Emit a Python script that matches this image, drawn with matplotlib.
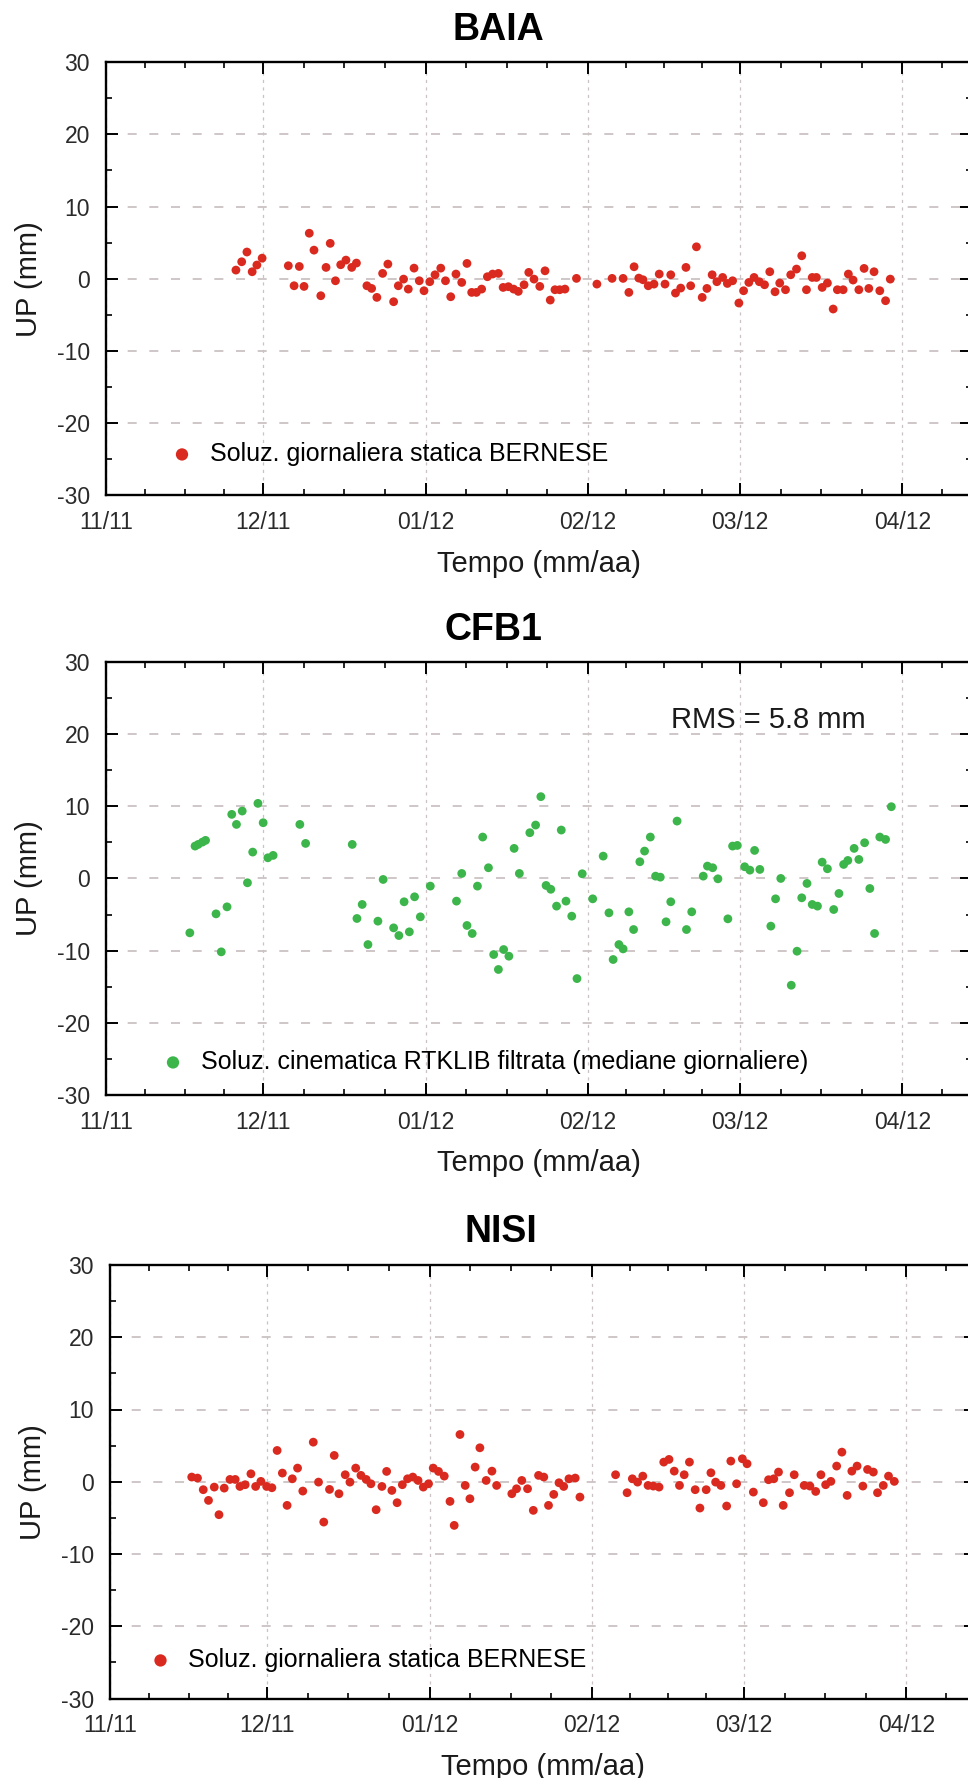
import matplotlib
matplotlib.use("Agg")
import matplotlib.pyplot as plt
from matplotlib.ticker import FixedLocator, MultipleLocator

plt.rcParams['font.family'] = ['Liberation Sans', 'DejaVu Sans']

# ---------------- data (days since 1 Nov 2011, UP in mm) ----------------
month_days = [0, 30, 61, 92, 121, 152]
month_labels = ['11/11', '12/11', '01/12', '02/12', '03/12', '04/12']
month_next = 182  # 1 May 2012 (end of last month interval)

y_ticks = [-30, -20, -10, 0, 10, 20, 30]

baia_day = [24.8, 25.9, 26.9, 27.9, 28.8, 29.8,
            34.8, 35.9, 36.9, 37.8, 38.8, 39.7, 41.0, 42.0, 42.8, 43.8, 44.8, 45.8, 46.9, 47.8,
            49.8, 50.7, 51.7, 52.8, 53.8, 54.9, 55.8, 56.8, 57.7, 58.8,
            59.8, 60.7, 61.8, 62.8, 63.9, 64.8, 65.8, 66.8, 67.9, 68.9,
            69.8, 70.7, 71.7, 72.8, 73.8, 74.9, 75.8, 76.8, 77.8, 78.7,
            79.8, 80.7, 81.7, 82.8, 83.8, 84.8, 85.7, 86.6, 87.6, 89.8,
            93.7, 96.6, 98.7, 99.8, 100.8, 101.7, 102.5, 103.5, 104.6, 105.6,
            106.7, 107.8, 108.7, 109.7, 110.7, 111.6, 112.7, 113.8, 114.7, 115.7,
            116.6, 117.7, 118.6, 119.6, 120.8, 121.7, 122.7, 123.7, 124.7, 125.7,
            126.7, 127.7, 128.6, 129.7, 130.7, 131.8, 132.8, 133.7, 134.8, 135.6,
            136.7, 137.7, 138.8, 139.6, 140.7, 141.7, 142.6, 143.7, 144.7, 145.6,
            146.6, 147.7, 148.8, 149.7]
baia_up = [1.2, 2.35, 3.7, 0.97, 1.9, 2.85,
           1.8, -0.97, 1.7, -1.06, 6.3, 3.96, -2.35, 1.57, 4.9, -0.28, 1.94, 2.58, 1.57, 2.17,
           -0.97, -1.34, -2.58, 0.74, 2.03, -3.18, -0.97, -0.05, -1.43, 1.47,
           -0.28, -1.66, -0.41, 0.55, 1.47, -0.28, -2.49, 0.65, -0.51, 2.12,
           -1.89, -1.89, -1.43, 0.28, 0.65, 0.74, -1.2, -1.1, -1.43, -1.75,
           -0.83, 0.88, -0.05, -1.06, 1.1, -2.95, -1.52, -1.52, -1.43, 0.05,
           -0.74, 0.05, 0.05, -1.89, 1.66, 0.09, -0.14, -0.97, -0.74, 0.65,
           -0.74, 0.55, -1.98, -1.29, 1.57, -0.97, 4.42, -2.58, -1.34, 0.55,
           -0.41, 0.18, -0.65, -0.28, -3.36, -1.66, -0.51, 0.18, -0.41, -0.83,
           0.97, -1.8, -0.6, -1.52, 0.55, 1.34, 3.18, -1.52, 0.18, 0.18,
           -1.2, -0.6, -4.19, -1.52, -1.52, 0.65, -0.18, -1.52, 1.43, -1.34,
           0.97, -1.66, -3.04, -0.05]

cfb1_day = [16.0, 17.0, 17.6, 18.4, 19.0, 21.0, 22.0, 23.1, 24.0, 24.9,
            26.0, 27.0, 28.0, 29.0, 30.0, 30.9, 31.9, 37.0, 38.1,
            47.0, 47.9, 48.9, 50.0, 51.9, 52.9, 54.9, 55.9, 56.9, 57.9,
            58.9, 60.0, 61.9, 66.9, 67.9, 68.9, 69.9, 70.9, 71.9, 73.0,
            74.0, 74.9, 75.9, 76.9, 77.9, 78.9, 80.9, 82.0, 83.0, 84.0,
            84.9, 86.0, 86.9, 87.8, 88.9, 89.9, 90.9, 92.9, 94.9, 96.0,
            96.8, 97.9, 98.7, 99.8, 100.7, 101.9, 102.8, 103.9, 104.9, 105.8,
            106.9, 107.8, 109.0, 110.8, 111.8, 114.0, 114.8, 115.8, 116.8, 118.7,
            119.6, 120.5, 121.9, 122.9, 123.8, 124.8, 126.9, 127.8, 128.8, 130.8,
            131.9, 132.8, 133.8, 134.8, 135.8, 136.7, 137.7, 138.9, 139.9, 140.8,
            141.6, 142.8, 143.7, 144.8, 145.8, 146.7, 147.7, 148.8, 149.9]
cfb1_up = [-7.53, 4.48, 4.71, 5.03, 5.27, -4.9, -10.16, -3.93, 8.87, 7.48,
           9.33, -0.6, 3.65, 10.39, 7.71, 2.86, 3.19, 7.48, 4.85,
           4.71, -5.54, -3.6, -9.15, -5.91, -0.14, -6.84, -7.9, -3.23, -7.39,
           -2.54, -5.31, -1.06, -3.14, 0.69, -6.51, -7.62, -1.06, 5.73, 1.48,
           -10.53, -12.6, -9.84, -10.76, 4.16, 0.69, 6.33, 7.39, 11.32, -0.97,
           -1.5, -3.83, 6.7, -3.14, -5.22, -13.86, 0.65, -2.82, 3.09, -4.76,
           -11.22, -9.15, -9.75, -4.62, -7.07, 2.31, 3.79, 5.73, 0.32, 0.18,
           -6.0, -3.23, 7.94, -7.07, -4.62, 0.32, 1.71, 1.48, -0.05, -5.59,
           4.48, 4.57, 1.62, 1.15, 3.88, 1.25, -6.6, -2.82, 0.0, -14.78,
           -10.07, -2.68, -0.69, -3.6, -3.83, 2.26, 1.34, -4.3, -2.08, 1.94,
           2.49, 4.16, 2.63, 4.94, -1.39, -7.62, 5.73, 5.4, 9.93]

nisi_day = [15.6, 16.7, 17.8, 18.8, 19.9, 20.8, 21.8, 22.9, 23.9, 24.8,
            25.8, 26.9, 27.8, 28.8, 29.9, 30.9, 31.9, 32.9, 33.8, 34.8,
            35.8, 36.8, 38.8, 39.8, 40.8, 41.9, 42.8, 43.7, 44.9, 45.8,
            46.9, 47.9, 48.9, 49.8, 50.8, 51.9, 52.8, 53.8, 54.8, 55.8,
            56.8, 57.8, 58.8, 59.8, 60.8, 61.7, 62.7, 63.8, 64.9, 65.7,
            66.8, 67.8, 68.7, 69.7, 70.6, 71.8, 72.9, 73.8, 76.7, 77.6,
            78.6, 79.7, 80.8, 81.8, 82.8, 83.7, 84.7, 85.7, 86.6, 87.6,
            88.8, 89.7, 96.5, 98.7, 99.7, 100.7, 101.7, 102.7, 103.7, 104.8,
            105.7, 106.7, 107.7, 108.7, 109.6, 110.6, 111.7, 112.6, 113.8, 114.7,
            115.6, 116.6, 117.7, 118.5, 119.6, 120.7, 121.6, 122.8, 124.7, 125.7,
            126.7, 127.6, 128.5, 129.7, 130.6, 132.5, 133.6, 134.7, 135.7, 136.6,
            137.6, 138.7, 139.7, 140.7, 141.6, 142.6, 143.7, 144.6, 145.7, 146.5,
            147.6, 148.6, 149.7]
nisi_up = [0.65, 0.51, -1.1, -2.58, -0.74, -4.56, -0.88, 0.32, 0.32, -0.65,
           -0.41, 1.1, -0.65, 0.05, -0.65, -0.83, 4.33, 1.2, -3.27, 0.41,
           1.89, -1.29, 5.48, -0.05, -5.58, -1.06, 3.64, -1.66, 0.97, -0.05,
           1.89, 0.88, 0.32, -0.28, -3.87, -0.65, 1.43, -1.2, -2.9, -0.41,
           0.41, 0.65, 0.18, -0.74, -0.28, 1.89, 1.43, 0.78, -2.72, -6.04,
           6.54, -0.51, -2.35, 2.03, 4.7, 0.18, 1.47, -0.51, -1.66, -0.97,
           0.18, -0.97, -3.96, 0.88, 0.65, -3.27, -1.75, -0.14, -0.65, 0.41,
           0.51, -2.12, 0.97, -1.52, 0.41, -0.05, 0.78, -0.51, -0.6, -0.74,
           2.72, 3.09, 1.47, -0.51, 0.97, 2.72, -1.1, -3.64, -1.1, 1.24,
           -0.05, -0.51, -3.36, 2.86, -0.28, 3.18, 2.49, -1.43, -2.9, 0.28,
           0.41, 1.34, -3.27, -1.52, 0.97, -0.51, -0.6, -1.34, 0.97, -0.41,
           0.05, 2.17, 4.1, -1.89, 1.47, 2.17, -0.6, 1.7, 1.34, -1.52,
           -0.51, 0.78, 0.05]

station_names = ['BAIA', 'CFB1', 'NISI']
series_labels = ['Soluz. giornaliera statica BERNESE',
                 'Soluz. cinematica RTKLIB filtrata (mediane giornaliere)',
                 'Soluz. giornaliera statica BERNESE']
rms_text = 'RMS = 5.8 mm'
rms_pos = (107.9, 21.9)

RED = '#DA2A1F'
GREEN = '#3CB54B'
GRID = '#CBC3C3'

# ---------------- layout (pixels) ----------------
W, H, DPI = 968, 1778, 100
PX_PER_DAY = 5.239
AX_W, AX_H = 866.0, 433.5

panels = [
    dict(day=baia_day, up=baia_up, color=RED, left=106, top=62,
         title_xy=(498.5, 30), leg_xy=(169.5, 454)),
    dict(day=cfb1_day, up=cfb1_up, color=GREEN, left=106, top=661.7,
         title_xy=(493, 630), leg_xy=(160.5, 1062)),
    dict(day=nisi_day, up=nisi_up, color=RED, left=110, top=1265,
         title_xy=(501, 1232), leg_xy=(148, 1660)),
]

bounds = month_days + [month_next]
minor_days = []
for a, b in zip(bounds[:-1], bounds[1:]):
    for k in (1, 2, 3):
        minor_days.append(a + (b - a) * k / 4.0)

fig = plt.figure(figsize=(W / DPI, H / DPI), dpi=DPI)
fig.patch.set_facecolor('white')

for i, p in enumerate(panels):
    left, top = p['left'], p['top']
    ax = fig.add_axes([left / W, 1 - (top + AX_H) / H, AX_W / W, AX_H / H])
    ax.set_xlim(0, AX_W / PX_PER_DAY)
    ax.set_ylim(-30, 30)

    ax.scatter(p['day'], p['up'], s=40, color=p['color'], edgecolors='none',
               label=series_labels[i], zorder=3)

    ax.set_xticks(month_days)
    ax.set_xticklabels(month_labels)
    ax.xaxis.set_minor_locator(FixedLocator(minor_days))
    ax.set_yticks(y_ticks)
    ax.set_yticklabels([str(v) for v in y_ticks])
    ax.yaxis.set_minor_locator(MultipleLocator(5))

    ax.yaxis.grid(True, which='major', linestyle=(0, (5, 7)), color=GRID, linewidth=1.3)
    ax.xaxis.grid(True, which='major', linestyle=(0, (2.5, 3.5)), color=GRID, linewidth=0.9)
    ax.set_axisbelow(True)

    ax.tick_params(which='both', direction='in', top=True, right=True,
                   labelsize=16.5, pad=11.5, colors='black')
    ax.tick_params(axis='both', labelcolor='#2a2a2a')
    ax.tick_params(which='major', length=8.5, width=1.4)
    ax.tick_params(which='minor', length=4.3, width=1.2)
    for s in ax.spines.values():
        s.set_linewidth(1.7)

    ax.set_xlabel('Tempo (mm/aa)', fontsize=21, labelpad=11, color='#1a1a1a')
    ax.set_ylabel('UP (mm)', fontsize=21, labelpad=10, color='#1a1a1a')

    tx, ty = p['title_xy']
    ax.set_title(station_names[i], fontsize=27, fontweight='bold',
                 x=(tx - left) / AX_W, y=1 + (top - ty) / AX_H, va='center', pad=0)

    lx, ly = p['leg_xy']
    ax.legend(loc='center left', bbox_to_anchor=((lx - left) / AX_W, (top + AX_H - ly) / AX_H),
              frameon=False, fontsize=18, handlelength=1.0, handletextpad=0.62,
              borderpad=0, borderaxespad=0, markerscale=1.4, scatterpoints=1)

    if i == 1:
        ax.text(rms_pos[0], rms_pos[1], rms_text, fontsize=21, va='center', ha='left',
                color='#1a1a1a')

fig.savefig('out.png', dpi=DPI)
